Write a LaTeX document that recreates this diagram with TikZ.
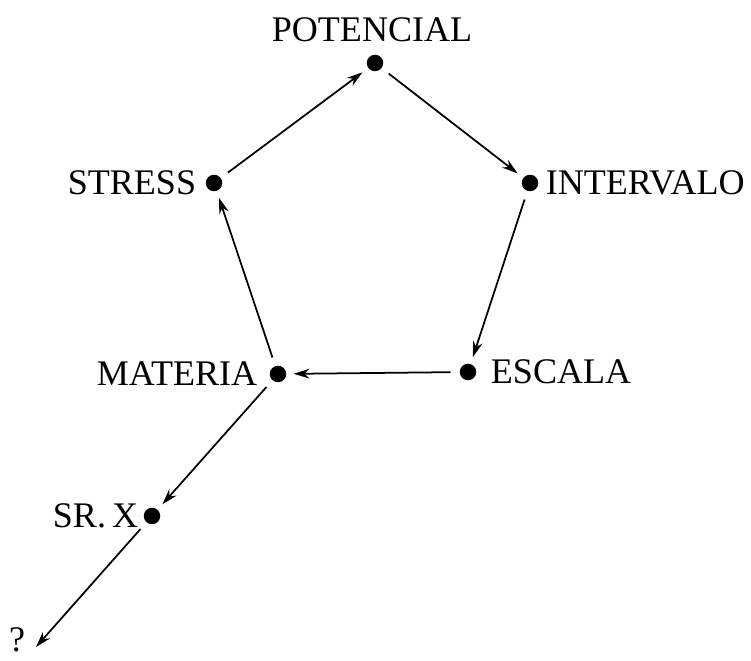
\documentclass[tikz,border=0pt]{standalone}
\usepackage{fontspec}
\setmainfont{Liberation Serif}
\usepackage{tikz}
\usetikzlibrary{arrows.meta, positioning}

\begin{document}
\begin{tikzpicture}[
    punto/.style={circle, fill=black, inner sep=0pt, minimum size=0.33cm},
    etiqueta/.style={inner sep=0pt, font=\fontsize{20.5}{24}\selectfont},
    flecha/.style={-{Stealth[length=9pt, width=5.5pt]}, line width=1pt, shorten <=5pt, shorten >=4pt}
]
    \useasboundingbox (0,0) rectangle (15.02,13.2);

    \node[punto] (pot) at (7.50,11.94) {};
    \node[punto] (str) at (4.28,9.54) {};
    \node[punto] (int) at (10.60,9.54) {};
    \node[punto] (esc) at (9.36,5.76) {};
    \node[punto] (mat) at (5.56,5.72) {};
    \node[punto] (srx) at (3.04,2.88) {};
    \coordinate (finP) at (0.72,0.26);

    \node[etiqueta, above=0.25cm of pot, xshift=-0.06cm] (potL) {POTENCIAL};
    \node[etiqueta, left=0.18cm of str] (strL) {STRESS};
    \node[etiqueta, right=0.14cm of int] (intL) {INTERVALO};
    \node[etiqueta, right=0.28cm of esc] (escL) {ESCALA};
    \node[etiqueta, left=0.24cm of mat] (matL) {MATERIA};
    \node[etiqueta, left=0.1cm of srx] (srxL) {SR.\,X};
    \node[etiqueta, anchor=base] (fin) at (0.34,0.16) {?};

    \draw[flecha] (pot) -- (int);
    \draw[flecha] (int) -- (esc);
    \draw[flecha] (esc) -- (mat);
    \draw[flecha] (mat) -- (str);
    \draw[flecha] (str) -- (pot);
    \draw[flecha] (mat) -- (srx);
    \draw[flecha, shorten >=0pt] (srx) -- (finP);
\end{tikzpicture}
\end{document}
